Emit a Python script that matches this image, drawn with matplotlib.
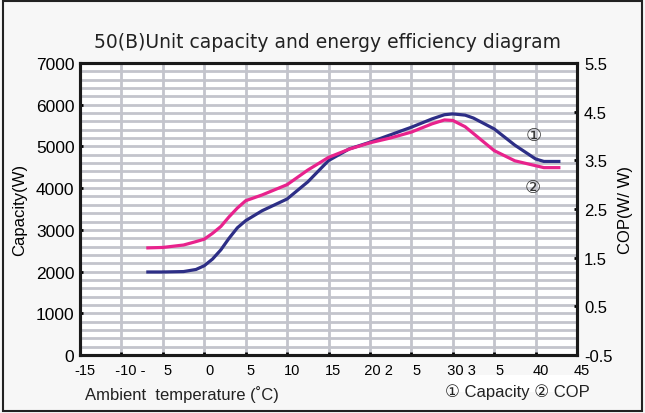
import matplotlib
matplotlib.use("Agg")
import matplotlib.pyplot as plt
import matplotlib.transforms as mtransforms
from matplotlib.patches import Rectangle

# ambient temperature samples (deg C)
temp = [-7, -5, -2.5, -1, 0, 1, 2, 3, 4, 5, 7, 10, 12.5, 15, 17.5, 20, 22.5, 25, 27.5, 29, 30,
        31.5, 32.5, 35, 37.5, 40, 41, 43]
# capacity (W)
capacity = [1990, 1990, 2000, 2050, 2140, 2300, 2520, 2800, 3050, 3220, 3460, 3740, 4150, 4660, 4940,
            5100, 5280, 5460, 5660, 5760, 5780, 5750, 5680, 5420, 5030, 4700, 4640, 4640]
# COP (W/W)
cop = [1.70, 1.71, 1.76, 1.83, 1.88, 2.00, 2.14, 2.34, 2.52, 2.67, 2.79, 3.00, 3.30, 3.56, 3.73,
       3.86, 3.96, 4.08, 4.25, 4.33, 4.32, 4.19, 4.05, 3.70, 3.49, 3.39, 3.35, 3.35]

x_ticks = [-15, -10, -5, 0, 5, 10, 15, 20, 25, 30, 35, 40, 45]
x_labels = ['-15', '  -10 -', '5', '0', '5', '10', '15', '  20 2', '5', '  30 3', '5', '40', '45']
cap_ticks = [0, 1000, 2000, 3000, 4000, 5000, 6000, 7000]
cop_ticks = [-0.5, 0.5, 1.5, 2.5, 3.5, 4.5, 5.5]

BLUE = '#2d2e86'
PINK = '#e8228c'
GRID = '#c3c4cc'
FONT = ['Liberation Sans', 'DejaVu Sans']

plt.rcParams['font.family'] = FONT
plt.rcParams['axes.unicode_minus'] = False

fig = plt.figure(figsize=(6.45, 4.14), dpi=100)
fig.patch.set_facecolor('#f7f7f7')
ax = fig.add_axes([80 / 645, 58 / 414, 497 / 645, 292 / 414])
ax.set_facecolor('white')

ax.set_xlim(-15, 45)
ax.set_ylim(0, 7000)
ax.set_xticks(x_ticks)
ax.set_xticklabels(x_labels, fontsize=10.5)
ax.set_yticks(cap_ticks)
ax.set_yticks(range(0, 7001, 200), minor=True)
ax.tick_params(axis='y', which='major', direction='in', length=2, width=2, labelsize=12.5, pad=4)
ax.tick_params(axis='y', which='minor', length=0)
ax.tick_params(axis='x', direction='in', length=2, width=2, pad=6)
ax.grid(True, which='both', axis='y', color=GRID, lw=2.0, zorder=0)
ax.grid(True, which='major', axis='x', color=GRID, lw=2.0, zorder=0)
ax.set_axisbelow(True)
for s in ax.spines.values():
    s.set_linewidth(2.2)
    s.set_color('#1a1a1a')

offset = mtransforms.ScaledTranslation(5 / 100, 0, fig.dpi_scale_trans)
for lab in ax.get_xticklabels():
    lab.set_transform(lab.get_transform() + offset)

ax2 = ax.twinx()
ax2.set_ylim(-0.5, 5.5)
ax2.set_yticks(cop_ticks)
ax2.tick_params(axis='y', direction='in', length=2, width=2, labelsize=12, pad=5)
for s in ax2.spines.values():
    s.set_linewidth(2.2)
    s.set_color('#1a1a1a')

ax2.plot(temp, cop, color=PINK, lw=2.3, solid_capstyle='butt', solid_joinstyle='round', zorder=3)
ax.plot(temp, capacity, color=BLUE, lw=2.3, solid_capstyle='butt', solid_joinstyle='round', zorder=4)

ax.text(39.8, 5280, '①', fontsize=13, family=['DejaVu Sans'], ha='center', va='center', color='#333333')
ax.text(39.6, 4030, '②', fontsize=13, family=['DejaVu Sans'], ha='center', va='center', color='#333333')

ax.set_ylabel('Capacity(W)', fontsize=12, labelpad=6)
ax2.set_ylabel('COP(W/ W)', fontsize=12, labelpad=4)

fig.text(327 / 645, 1 - 43 / 414, '50(B)Unit capacity and energy efficiency diagram',
         fontsize=13.5, family=['DejaVu Sans Condensed', 'DejaVu Sans'], ha='center', va='center', color='#222222')
fig.text(85 / 645, 1 - 395 / 414, 'Ambient  temperature (˚C)', fontsize=12, ha='left', va='center', color='#222222')

fig.patches.append(Rectangle((450 / 645, 1 - 393 / 414), 130 / 645, 17 / 414, transform=fig.transFigure,
                             facecolor='white', edgecolor='none', zorder=5))
fig.text(445 / 645, 1 - 392 / 414, '① Capacity ② COP', fontsize=12, ha='left', va='center',
         color='#222222', zorder=6)

fig.patches.append(Rectangle((0.004, 0.005), 0.992, 0.99, transform=fig.transFigure, facecolor='none',
                             edgecolor='#222222', lw=1.5, zorder=7))

fig.savefig('out.png', dpi=100, facecolor=fig.get_facecolor())
